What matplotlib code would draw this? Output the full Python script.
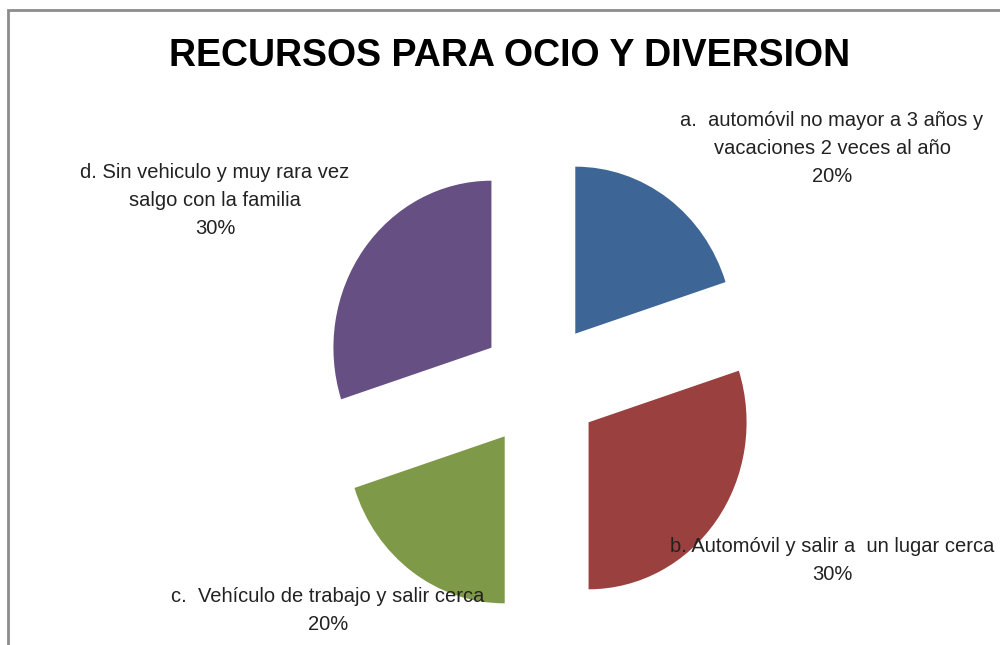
import matplotlib.pyplot as plt
from matplotlib.patches import Rectangle

plt.rcParams['font.family'] = ['Liberation Sans Narrow', 'Liberation Sans', 'DejaVu Sans']

titulo = 'RECURSOS PARA OCIO Y DIVERSION'
categorias = ['a.  automóvil no mayor a 3 años y\nvacaciones 2 veces al año',
              'b. Automóvil y salir a  un lugar cerca',
              'c.  Vehículo de trabajo y salir cerca',
              'd. Sin vehiculo y muy rara vez\nsalgo con la familia']
valores = [20, 30, 20, 30]
colores = ['#3D6696', '#9A403E', '#7E9947', '#665083']

# label centres in pixels (x, y from top)
pos_etiquetas = [(832, 148), (832, 561), (328, 611), (215, 200)]

W, H = 1000, 645
cx, cy = 540, 385
rx, ry = 158, 167  # pixels per unit radius, the original is slightly squashed

fig = plt.figure(figsize=(10, 6.45), dpi=100)
ax = fig.add_axes([0, 0, 1, 1])

ax.pie(valores, colors=colores, startangle=90, counterclock=False,
       explode=[0.38] * len(valores), radius=1,
       wedgeprops={'linewidth': 0})
ax.set_xlim(-cx / rx, (W - cx) / rx)
ax.set_ylim(-(H - cy) / ry, cy / ry)
ax.set_aspect('auto')
ax.axis('off')

total = sum(valores)
for cat, v, (px, py) in zip(categorias, valores, pos_etiquetas):
    txt = cat + '\n' + '{:.0f}%'.format(100 * v / total)
    fig.text(px / W, 1 - py / H, txt, ha='center', va='center',
             fontsize=14.5, linespacing=1.6, color='#222222')

fig.text(510 / W, 1 - 56 / H, titulo, ha='center', va='center',
         fontsize=27, fontweight='bold', color='black')

# chart area border
fig.add_artist(Rectangle((8 / W, -0.05), 1.1, 1 - 10 / H + 0.05,
                         transform=fig.transFigure, fill=False,
                         edgecolor='#8c8c8c', linewidth=2))

fig.savefig('out.png', dpi=100, facecolor='white')
